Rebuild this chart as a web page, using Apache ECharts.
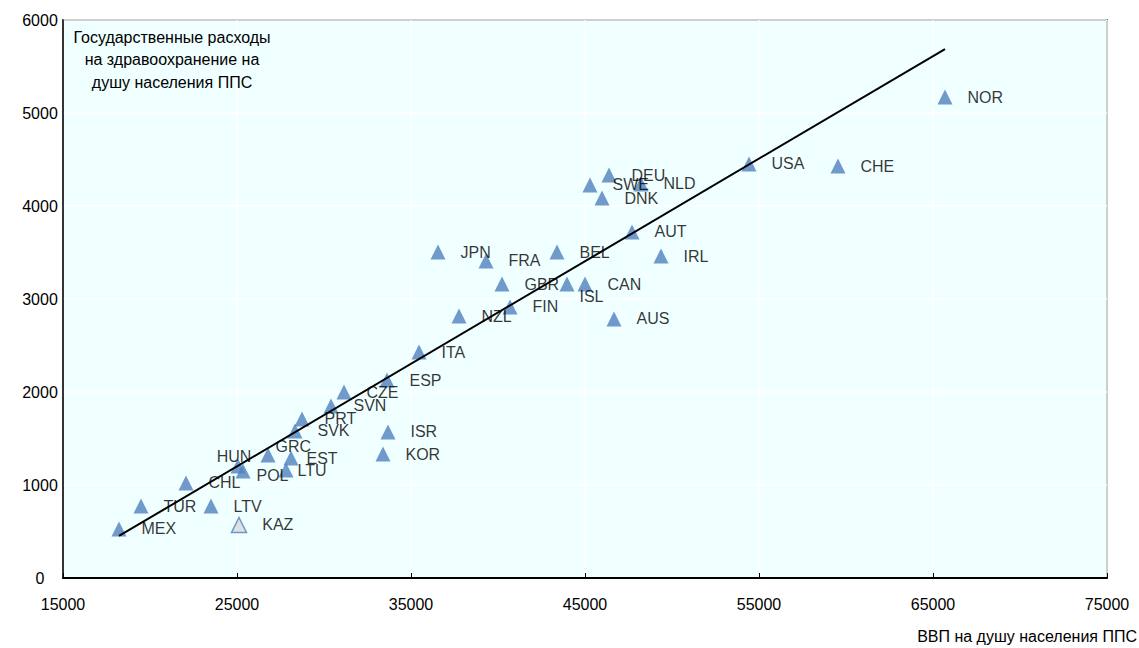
<!DOCTYPE html>
<html>
<head>
<meta charset="utf-8">
<script src="https://cdn.jsdelivr.net/npm/echarts@6/dist/echarts.min.js"></script>
<style>
html,body{margin:0;padding:0;background:#fff;}
#chart{width:1139px;height:648px;}
</style>
</head>
<body>
<div id="chart"></div>
<script>
// ---- data ----
const countries = ["MEX","TUR","CHL","LTV","KAZ","HUN","POL","GRC","EST","LTU","SVK","PRT","SVN","CZE","ESP","ISR","KOR","ITA","NZL","FIN","GBR","JPN","FRA","BEL","ISL","CAN","AUS","AUT","IRL","SWE","DEU","DNK","NLD","USA","CHE","NOR"];
const gdpPerCapita = [18218,19483,22069,23506,25115,25057,25345,26781,28103,27816,28333,28735,30402,31149,33620,33678,33390,35459,37758,40689,40229,36551,39310,43390,43965,44999,46666,47700,49367,45287,46379,45976,48218,54424,59539,65689];
const healthSpend = [527,774,1022,774,570,1204,1151,1323,1290,1161,1581,1710,1850,2000,2129,1570,1333,2430,2817,2914,3161,3505,3409,3505,3161,3161,2785,3721,3462,4226,4333,4086,4237,4452,4430,5172];
const trendX = [18218, 65689];
const trendY = [452, 5688];
const xTicks = [15000, 25000, 35000, 45000, 55000, 65000, 75000];
const yTicks = [0, 1000, 2000, 3000, 4000, 5000, 6000];
const highlighted = ["KAZ"];
const yTitle = "Государственные расходы\nна здравоохранение на\nдушу населения ППС";
const xTitle = "ВВП на душу населения ППС";

// ---- styles ----
const FONT = "'Liberation Sans', Arial, sans-serif";
const BLUE = "#4F81BD";
// label placement tweaks (style only): position/distance plus pixel shift
const labelTweaks = {
  HUN: {position: "inside", dx: -4, dy: -10},
  GRC: {distance: 0, dy: -8},
  EST: {distance: 8},
  LTU: {distance: 4},
  POL: {distance: 6, dy: 5},
  ISL: {distance: 5, dy: 12}
};

const scatterData = countries.map((c, i) => {
  const item = {name: c, value: [gdpPerCapita[i], healthSpend[i]]};
  if (highlighted.includes(c)) {
    item.itemStyle = {color: "#D9D9D9", borderColor: BLUE, borderWidth: 1.5};
  }
  const t = labelTweaks[c];
  if (t) {
    item.label = {};
    if (t.position) item.label.position = t.position;
    if (t.distance !== undefined) item.label.distance = t.distance;
  }
  return item;
});
const trendData = trendX.map((x, i) => [x, trendY[i]]);

const chart = echarts.init(document.getElementById("chart"), null, {renderer: "svg"});
chart.setOption({
  animation: false,
  backgroundColor: "#ffffff",
  grid: {
    left: 63, right: 32, top: 20, bottom: 70,
    show: true, backgroundColor: "#F0FFFF", borderColor: "#000", borderWidth: 1.5
  },
  xAxis: {
    type: "value",
    min: xTicks[0], max: xTicks[xTicks.length - 1], interval: xTicks[1] - xTicks[0],
    axisLine: {show: true, lineStyle: {color: "#000", width: 2}},
    axisTick: {show: true, inside: true, length: 5, lineStyle: {color: "#000", width: 1}},
    axisLabel: {color: "#000", fontSize: 16, fontFamily: FONT, margin: 18,
                formatter: v => String(v)},
    splitLine: {show: true, lineStyle: {color: "#ffffff", width: 1.5}}
  },
  yAxis: {
    type: "value",
    min: yTicks[0], max: yTicks[yTicks.length - 1], interval: yTicks[1] - yTicks[0],
    axisLine: {show: true, lineStyle: {color: "#000", width: 1.5}},
    axisTick: {show: false},
    axisLabel: {color: "#000", fontSize: 16, fontFamily: FONT, margin: 23, align: "center",
                formatter: v => String(v)},
    splitLine: {show: true, lineStyle: {color: "#ffffff", width: 1.5}}
  },
  graphic: [
    {type: "text", x: 172, y: 26, z: 100,
     style: {text: yTitle, align: "center", verticalAlign: "top", fill: "#000",
             font: "16px " + FONT, lineHeight: 22.5}},
    {type: "text", x: 1137, y: 628, z: 100,
     style: {text: xTitle, align: "right", verticalAlign: "top", fill: "#000",
             font: "16px " + FONT}}
  ],
  series: [
    {
      type: "scatter",
      symbol: "triangle",
      symbolSize: [15, 15],
      itemStyle: {color: BLUE},
      z: 2,
      label: {show: true, position: "right", distance: 15, formatter: "{b}",
              color: "#000", fontSize: 16, fontFamily: FONT},
      labelLayout: function (params) {
        const t = labelTweaks[countries[params.dataIndex]];
        if (t) return {dx: t.dx || 0, dy: t.dy || 0, hideOverlap: false};
        return {hideOverlap: false};
      },
      data: scatterData
    },
    {
      type: "line",
      data: trendData,
      symbol: "none",
      silent: true,
      z: 3,
      lineStyle: {color: "#000", width: 2}
    }
  ]
});
</script>
</body>
</html>
